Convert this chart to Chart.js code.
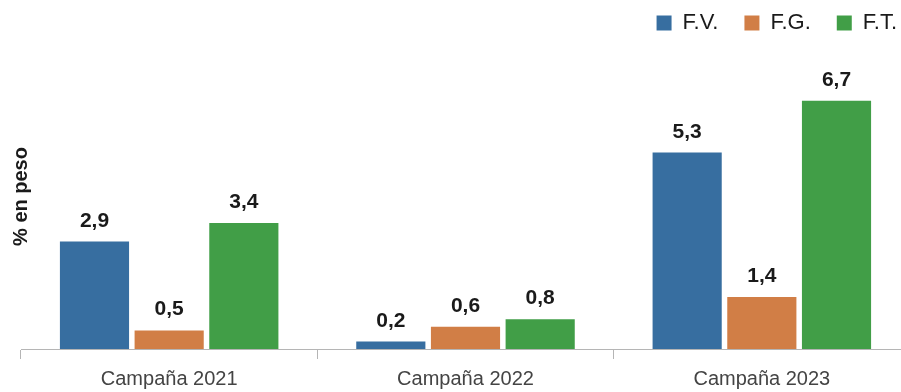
<!DOCTYPE html>
<html>

<head>
    <meta charset="utf-8">
    <title>% en peso por campaña</title>
    <script src="https://cdn.jsdelivr.net/npm/chart.js"></script>
    <style>
        body {
            margin: 0;
            overflow: hidden;
            background: #fff;
            font-family: "Liberation Sans", Arial, sans-serif;
        }

        .chart-box {
            width: 910px;
            height: 392px;
        }
    </style>
</head>

<body>
    <div class="chart-box">
        <canvas id="bar-chart"></canvas>
    </div>

    <script>
        const categories = ['Campaña 2021', 'Campaña 2022', 'Campaña 2023'];
        const seriesNames = ['F.V.', 'F.G.', 'F.T.'];
        const fvValues = [2.9, 0.2, 5.3];
        const fgValues = [0.5, 0.6, 1.4];
        const ftValues = [3.4, 0.8, 6.7];
        const seriesColors = ['#376ea0', '#d17e46', '#419e47'];

        // value labels above each bar, comma decimal
        const valueLabels = {
            id: 'valueLabels',
            afterDatasetsDraw(chart) {
                const ctx = chart.ctx;
                ctx.save();
                ctx.font = 'bold 21px "Liberation Sans", Arial, sans-serif';
                ctx.fillStyle = '#1a1a1a';
                ctx.textAlign = 'center';
                ctx.textBaseline = 'alphabetic';
                chart.data.datasets.forEach((ds, i) => {
                    chart.getDatasetMeta(i).data.forEach((bar, j) => {
                        const txt = ds.data[j].toFixed(1).replace('.', ',');
                        ctx.fillText(txt, bar.x, bar.y - 15);
                    });
                });
                ctx.restore();
            }
        };

        // push the legend a bit further to the right edge
        const legendShift = {
            id: 'legendShift',
            afterLayout(chart) {
                if (chart.legend) {
                    chart.legend.right += 13;
                }
            }
        };

        const allSeries = [fvValues, fgValues, ftValues];

        new Chart(document.getElementById('bar-chart'), {
            type: 'bar',
            data: {
                labels: categories,
                datasets: allSeries.map((vals, i) => ({
                    label: seriesNames[i],
                    data: vals,
                    backgroundColor: seriesColors[i],
                    categoryPercentage: 0.756,
                    barPercentage: 0.926
                }))
            },
            options: {
                responsive: true,
                maintainAspectRatio: false,
                animation: false,
                layout: { padding: { left: 0, right: 0, top: -14, bottom: 0 } },
                plugins: {
                    legend: {
                        position: 'top',
                        align: 'end',
                        labels: {
                            boxWidth: 15,
                            boxHeight: 15,
                            padding: 26,
                            color: '#1a1a1a',
                            font: { size: 22, family: '"Liberation Sans", Arial, sans-serif' }
                        }
                    },
                    tooltip: { enabled: false }
                },
                scales: {
                    x: {
                        afterFit(s) { s.height = 43; },
                        grid: {
                            offset: true,
                            drawOnChartArea: false,
                            tickLength: 10,
                            color: '#b5b5b5'
                        },
                        border: { color: '#b5b5b5', width: 1 },
                        ticks: {
                            padding: 8,
                            color: '#444',
                            font: { size: 20, family: '"Liberation Sans", Arial, sans-serif' }
                        }
                    },
                    y: {
                        min: 0,
                        max: 8.23,
                        afterFit(s) { s.width = 21; },
                        grid: { display: false },
                        border: { display: false },
                        ticks: { display: false },
                        title: {
                            display: true,
                            text: '% en peso',
                            color: '#1a1a1a',
                            padding: { top: 9, bottom: 0 },
                            font: { size: 20, weight: 'bold', family: '"Liberation Sans", Arial, sans-serif' }
                        }
                    }
                }
            },
            plugins: [valueLabels, legendShift]
        });
    </script>
</body>

</html>
